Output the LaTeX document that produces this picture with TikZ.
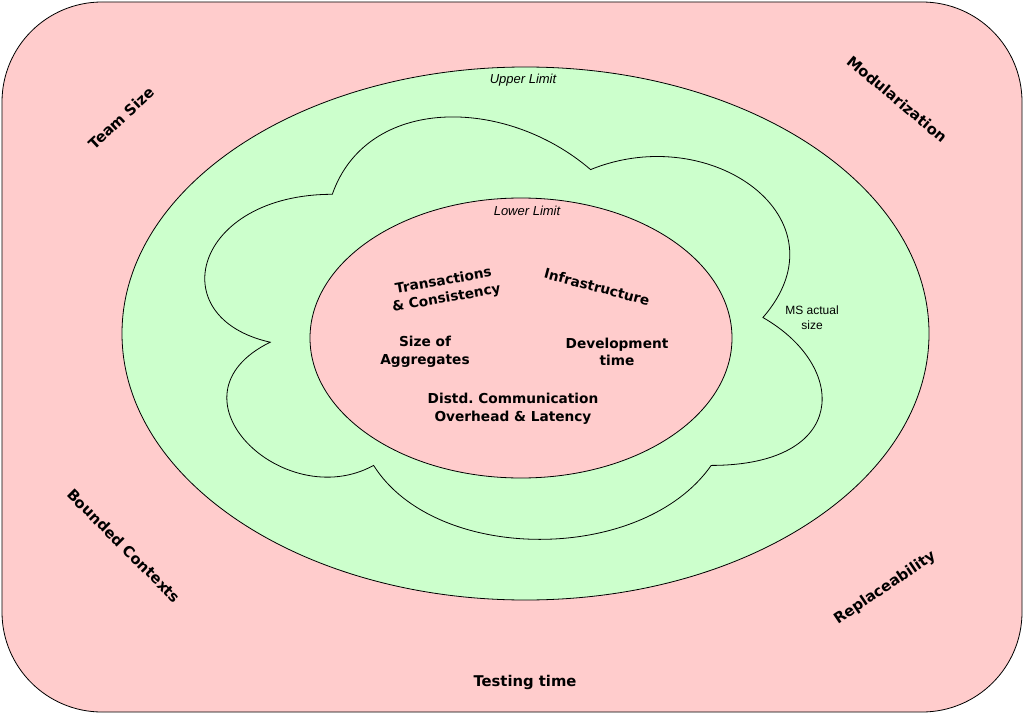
\documentclass[tikz,border=0pt]{standalone}
\usepackage{fontspec}
\setmainfont{DejaVu Sans}
\newfontfamily\helv{Liberation Sans}
\usepackage{xcolor}
\usetikzlibrary{positioning}
\definecolor{mypink}{HTML}{FFCCCC}
\definecolor{mygreen}{HTML}{CCFFCC}
\tikzset{
    mylabel/.style={
        font=\bfseries\fontsize{13.7}{17.5}\selectfont,
        align=center,
        inner sep=0pt
    },
    myouter/.style={
        mylabel,
        font=\bfseries\fontsize{14.8}{18}\selectfont
    },
    mynote/.style={
        font=\helv\fontsize{12}{15}\selectfont,
        align=center,
        inner sep=0pt
    },
    mylimit/.style={
        mynote,
        font=\helv\itshape\fontsize{13}{15}\selectfont
    },
    myzone/.style={
        draw=black,
        line width=0.8pt
    }
}

\begin{document}
\begin{tikzpicture}[x=1pt,y=-1pt]
        \useasboundingbox (0,0) rectangle (1024,714);
        % draw outer box
        \draw[myzone, fill=mypink, rounded corners=100pt] (2,2) rectangle (1022,712);

        % draw upper limit, cloud and lower limit
        \draw[myzone, fill=mygreen] (525.5,333.5) ellipse [x radius=403.5pt, y radius=266.5pt];
        \draw[myzone, fill=mygreen] (332.3,194.3)
            .. controls (194.5,194.3) and (160,317.5) .. (270.2,342.2)
            .. controls (160,396.4) and (284,514.7) .. (373.6,465.4)
            .. controls (435.6,564) and (642.3,564) .. (711.2,465.4)
            .. controls (849,465.4) and (849,366.8) .. (762.9,317.5)
            .. controls (849,218.9) and (711.2,120.3) .. (590.6,169.6)
            .. controls (504.5,95.7) and (366.7,95.7) .. (332.3,194.3) -- cycle;
        \draw[myzone, fill=mypink] (521,338) ellipse [x radius=211pt, y radius=140pt];

        % draw outer labels
        \node[myouter, rotate=43] (teamsize) at (121,118) {Team Size};
        \node[myouter, rotate=-40] (modular) at (897,99) {Modularization};
        \node[myouter, rotate=-45] (bounded) at (124,546) {Bounded Contexts};
        \node[myouter, rotate=34] (replace) at (885,588) {Replaceability};
        \node[myouter] (testing) at (525,682) {Testing time};

        % draw limit labels
        \node[mylimit] (upper) at (523,80) {Upper Limit};
        \node[mylimit] (lower) at (527,211) {Lower Limit};
        \node[mynote] (actual) at (812,318) {MS actual\\size};

        % draw inner labels
        \node[mylabel, rotate=10] (trans) at (445,290) {Transactions\\\& Consistency};
        \node[mylabel, rotate=-15] (infra) at (597,287) {Infrastructure};
        \node[mylabel] (aggr) at (425,352) {Size of\\Aggregates};
        \node[mylabel] (devtime) at (617,352) {Development\\time};
        \node[mylabel] (comm) at (513,409) {Distd.\ Communication\\Overhead \& Latency};
    \end{tikzpicture}
\end{document}
